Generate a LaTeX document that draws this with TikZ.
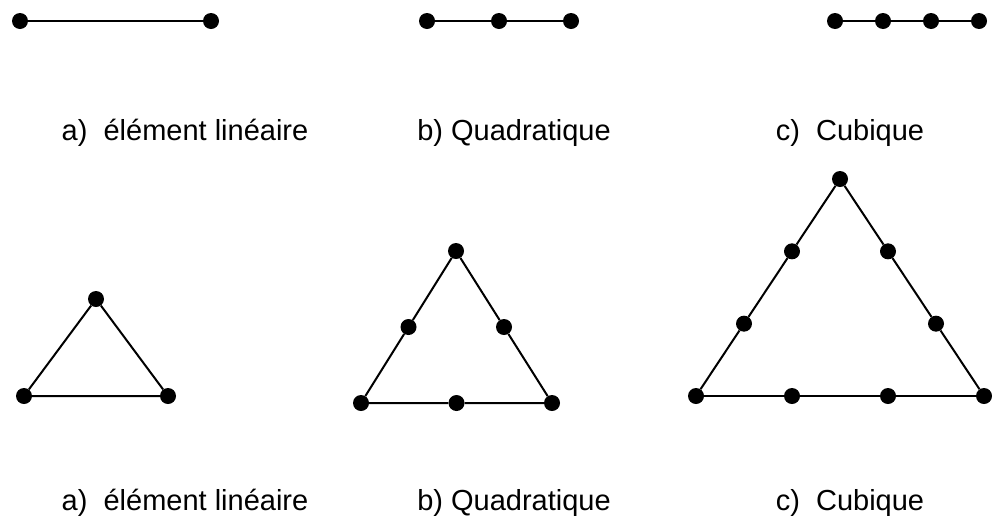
\documentclass[tikz,border=0pt]{standalone}
\usepackage{fontspec}
\setmainfont{Liberation Sans}
\usetikzlibrary{calc}

\begin{document}
\begin{tikzpicture}[x=1pt, y=-1pt,
		pt/.style={circle, fill=black, inner sep=0pt, minimum size=16pt},
		edge/.style={line width=2pt},
		lbl/.style={anchor=base, font=\fontsize{29}{34}\selectfont}]
	\useasboundingbox (0,0) rectangle (992,515);
	% 1D elements
	\node[pt] (l1) at (20,21) {};
	\node[pt] (l2) at (211,21) {};
	\draw[edge] (l1) -- (l2);
	\foreach \i/\x in {1/427, 2/499, 3/571}
		\node[pt] (q\i) at (\x,21) {};
	\draw[edge] (q1) -- (q2) -- (q3);
	\foreach \i/\x in {1/835, 2/883, 3/931, 4/979}
		\node[pt] (c\i) at (\x,21) {};
	\draw[edge] (c1) -- (c2) -- (c3) -- (c4);
	\node[lbl] (la1) at (185,140) {a)~ élément linéaire};
	\node[lbl] (lb1) at (514,140) {b) Quadratique};
	\node[lbl] (lc1) at (850,140) {c)~ Cubique};
	% 2D triangles
	\node[pt] (ta) at (24,396) {};
	\node[pt] (tb) at (168,396) {};
	\node[pt] (tc) at (96,299) {};
	\draw[edge] (ta) -- (tb) -- (tc) -- (ta);
	\node[pt] (qa) at (361,403) {};
	\node[pt] (qb) at (552,403) {};
	\node[pt] (qc) at (456,251) {};
	\node[pt] (qab) at ($(qa)!0.5!(qb)$) {};
	\node[pt] (qbc) at ($(qb)!0.5!(qc)$) {};
	\node[pt] (qca) at ($(qc)!0.5!(qa)$) {};
	\draw[edge] (qa) -- (qab) -- (qb) -- (qbc) -- (qc) -- (qca) -- (qa);
	\node[pt] (ca) at (696,396) {};
	\node[pt] (cb) at (984,396) {};
	\node[pt] (cc) at (840,179) {};
	\foreach \p/\q in {a/b, b/c, c/a}{
		\node[pt] (c\p\q1) at ($(c\p)!1/3!(c\q)$) {};
		\node[pt] (c\p\q2) at ($(c\p)!2/3!(c\q)$) {};
		\draw[edge] (c\p) -- (c\p\q1) -- (c\p\q2) -- (c\q);
	}
	\node[lbl] (la2) at (185,510) {a)~ élément linéaire};
	\node[lbl] (lb2) at (514,510) {b) Quadratique};
	\node[lbl] (lc2) at (850,510) {c)~ Cubique};
\end{tikzpicture}
\end{document}
